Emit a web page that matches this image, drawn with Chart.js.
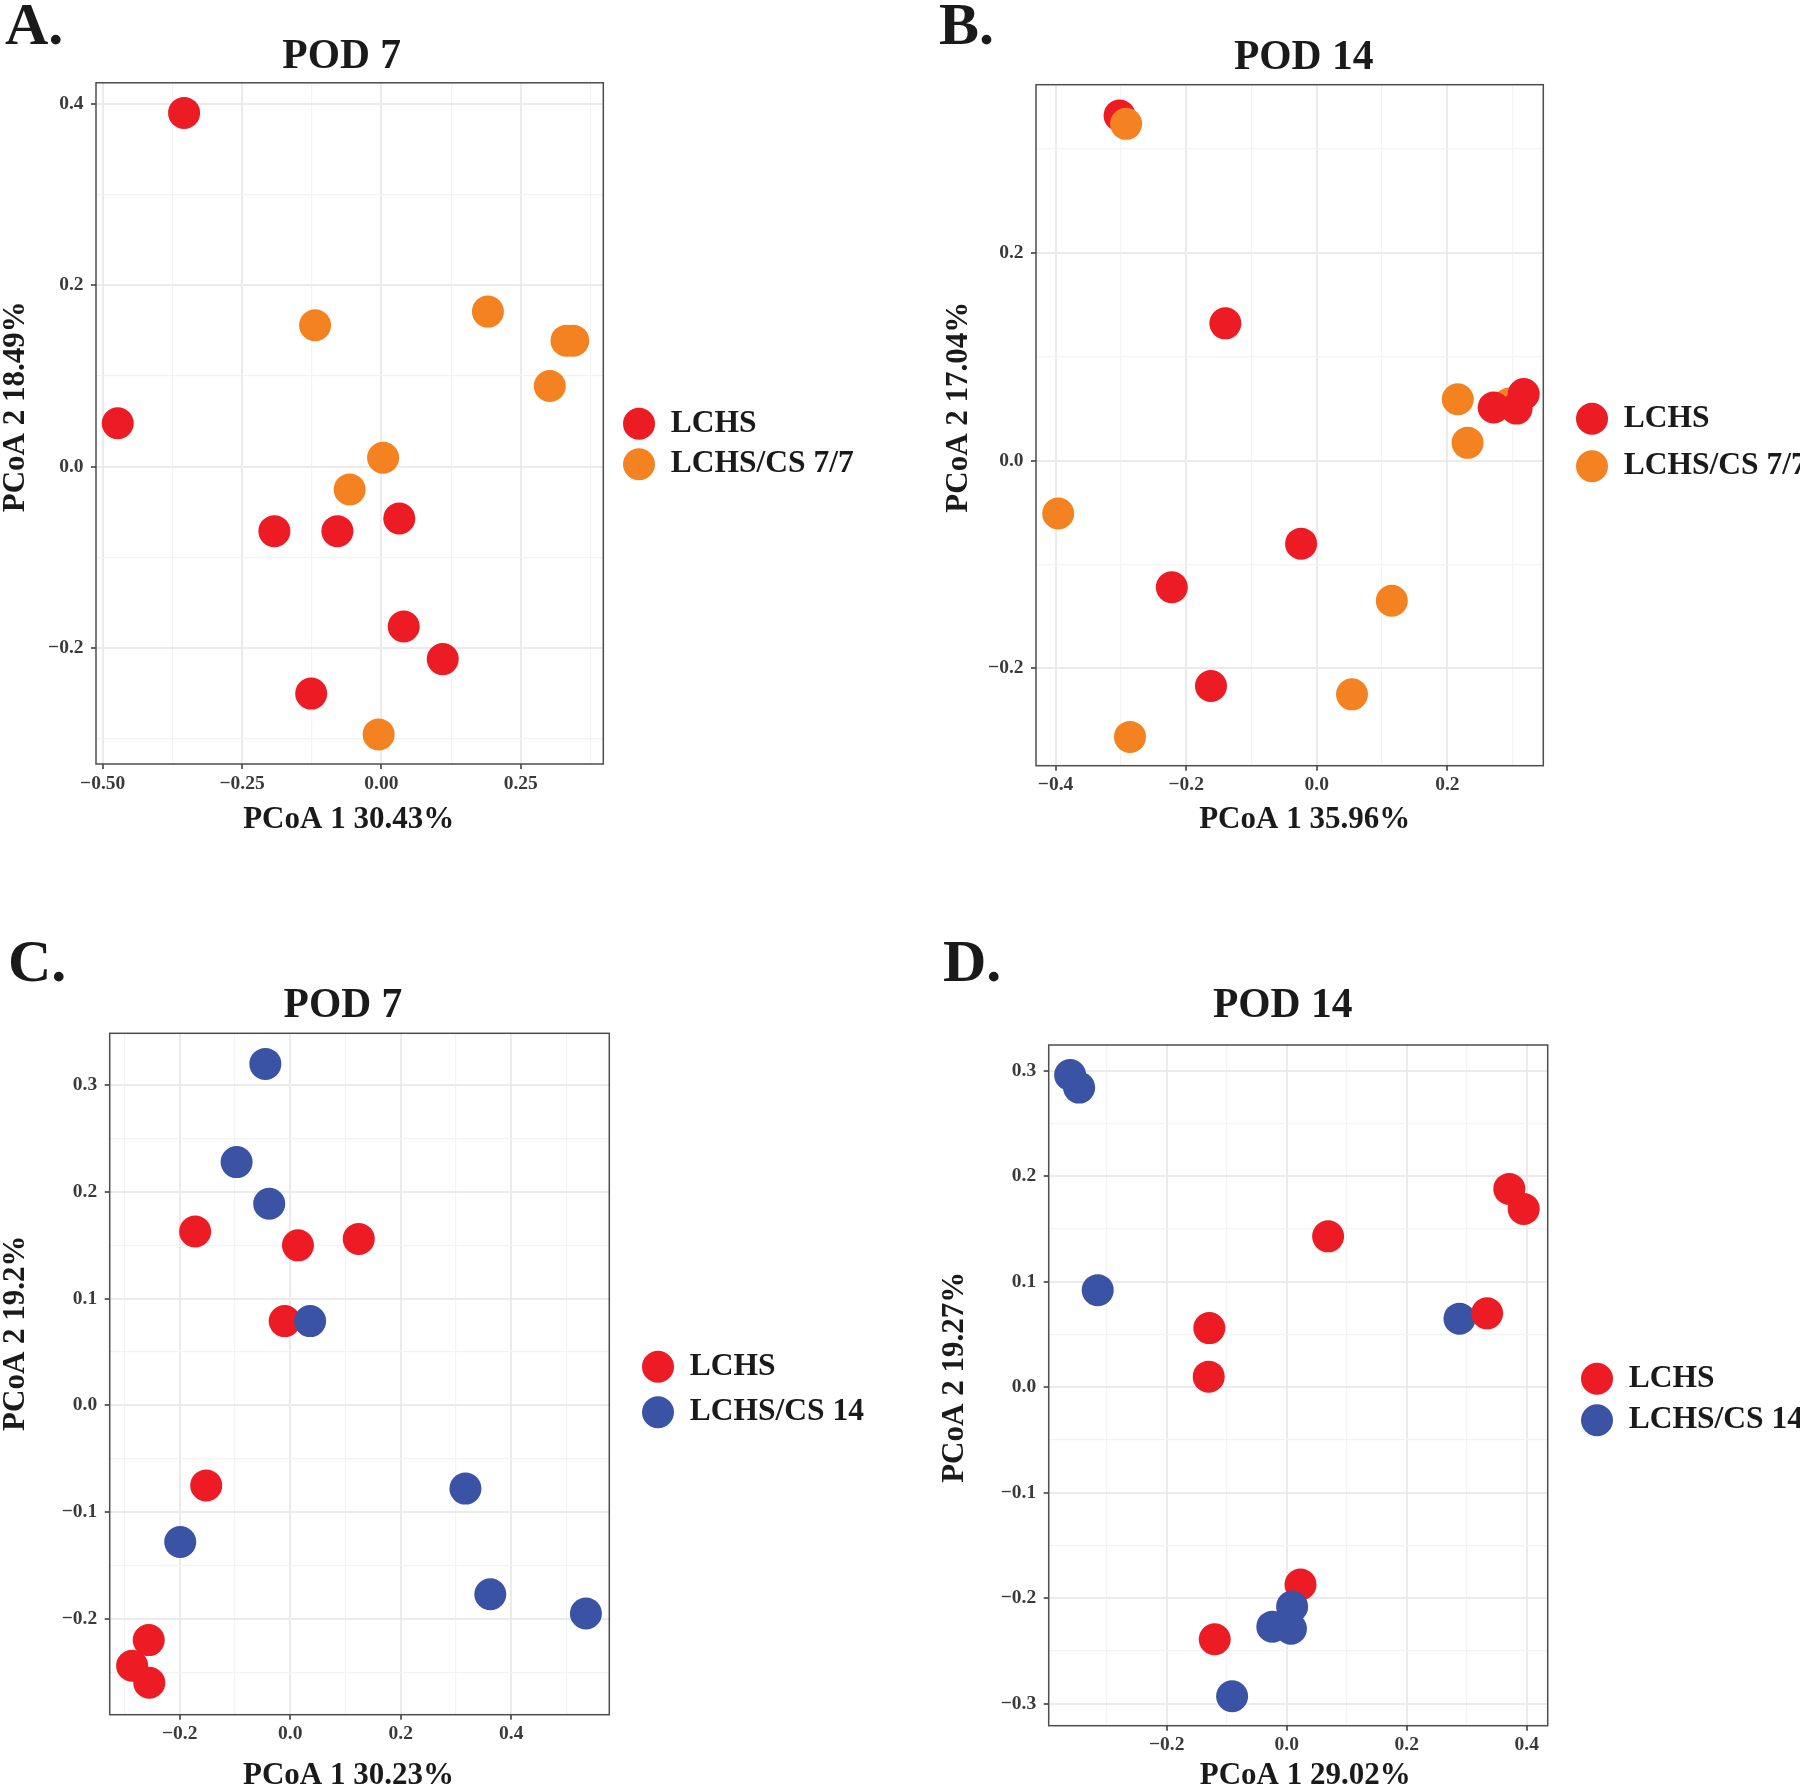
<!DOCTYPE html>
<html>
<head>
<meta charset="utf-8">
<title>PCoA - POD 7 / POD 14</title>
<script src="https://cdn.jsdelivr.net/npm/chart.js@4.4.1/dist/chart.umd.min.js"></script>
<style>
  html, body { margin: 0; padding: 0; background: #fff; overflow: hidden; }
  body { position: relative; width: 1800px; height: 1787px; }
  canvas { position: absolute; }
  .tag {
    position: absolute;
    font-family: 'Liberation Serif', 'Times New Roman', serif;
    font-weight: bold;
    font-size: 60px;
    line-height: 1;
    color: #1a1a1a;
  }
</style>
</head>
<body>
<div class="tag" style="left:5px;top:-6px">A.</div>
<div class="tag" style="left:939px;top:-6px">B.</div>
<div class="tag" style="left:8px;top:931px">C.</div>
<div class="tag" style="left:943px;top:931px">D.</div>

<canvas id="chartA" width="900" height="888" style="left:0px;top:0px"></canvas>
<canvas id="chartB" width="880" height="885" style="left:920px;top:0px"></canvas>
<canvas id="chartC" width="900" height="821" style="left:0px;top:979px"></canvas>
<canvas id="chartD" width="880" height="841" style="left:920px;top:979px"></canvas>

<script>
const FONT = "'Liberation Serif', 'Times New Roman', serif";
const M = '\u2212'; // ggplot minus sign

const groupColors = {
    'LCHS': '#ED1C24',
    'LCHS/CS 7/7': '#F58220',
    'LCHS/CS 14': '#3A53A4'
};

// ---------- A. POD 7 : LCHS vs LCHS/CS 7/7 (rows in drawing order) ----------
const groupA = ['LCHS', 'LCHS', 'LCHS', 'LCHS', 'LCHS', 'LCHS', 'LCHS', 'LCHS',
    'LCHS/CS 7/7', 'LCHS/CS 7/7', 'LCHS/CS 7/7', 'LCHS/CS 7/7', 'LCHS/CS 7/7', 'LCHS/CS 7/7', 'LCHS/CS 7/7', 'LCHS/CS 7/7'];
const pc1A = [-0.354, -0.473, -0.192, -0.079, 0.032, 0.040, 0.110, -0.126,
    -0.119, 0.191, 0.332, 0.344, 0.302, 0.003, -0.057, -0.005];
const pc2A = [0.390, 0.048, -0.071, -0.071, -0.057, -0.176, -0.212, -0.250,
    0.156, 0.171, 0.139, 0.139, 0.089, 0.010, -0.025, -0.295];
const xRangeA = [-0.512, 0.398];
const yRangeA = [-0.3276, 0.4232];
const xMajorA = [-0.5, -0.25, 0, 0.25];
const xMinorA = [-0.375, -0.125, 0.125, 0.375];
const xLabelsA = [M + '0.50', M + '0.25', '0.00', '0.25'];
const yMajorA = [-0.2, 0, 0.2, 0.4];
const yMinorA = [-0.3, -0.1, 0.1, 0.3];
const yLabelsA = [M + '0.2', '0.0', '0.2', '0.4'];

// ---------- B. POD 14 : LCHS vs LCHS/CS 7/7 ----------
const groupB = ['LCHS', 'LCHS/CS 7/7', 'LCHS/CS 7/7', 'LCHS', 'LCHS', 'LCHS', 'LCHS', 'LCHS', 'LCHS', 'LCHS',
    'LCHS/CS 7/7', 'LCHS/CS 7/7', 'LCHS/CS 7/7', 'LCHS/CS 7/7', 'LCHS/CS 7/7', 'LCHS/CS 7/7'];
const pc1B = [-0.302, -0.292, 0.295, 0.271, 0.306, 0.317, -0.140, -0.024, -0.222, -0.162,
    0.216, 0.231, -0.396, 0.115, 0.054, -0.286];
const pc2B = [0.332, 0.324, 0.055, 0.051, 0.050, 0.064, 0.132, -0.080, -0.122, -0.217,
    0.059, 0.017, -0.051, -0.135, -0.225, -0.266];
const xRangeB = [-0.430, 0.347];
const yRangeB = [-0.2937, 0.3617];
const xMajorB = [-0.4, -0.2, 0, 0.2];
const xMinorB = [-0.3, -0.1, 0.1, 0.3];
const xLabelsB = [M + '0.4', M + '0.2', '0.0', '0.2'];
const yMajorB = [-0.2, 0, 0.2];
const yMinorB = [-0.1, 0.1, 0.3];
const yLabelsB = [M + '0.2', '0.0', '0.2'];

// ---------- C. POD 7 : LCHS vs LCHS/CS 14 ----------
const groupC = ['LCHS', 'LCHS', 'LCHS', 'LCHS', 'LCHS', 'LCHS', 'LCHS', 'LCHS',
    'LCHS/CS 14', 'LCHS/CS 14', 'LCHS/CS 14', 'LCHS/CS 14', 'LCHS/CS 14', 'LCHS/CS 14', 'LCHS/CS 14', 'LCHS/CS 14'];
const pc1C = [-0.172, 0.014, 0.124, -0.010, -0.152, -0.256, -0.286, -0.255,
    -0.045, -0.097, -0.038, 0.036, 0.317, 0.362, 0.535, -0.199];
const pc2C = [0.163, 0.150, 0.156, 0.079, -0.075, -0.220, -0.244, -0.260,
    0.320, 0.228, 0.189, 0.079, -0.078, -0.177, -0.195, -0.128];
const xRangeC = [-0.3266, 0.5773];
const yRangeC = [-0.2899, 0.3487];
const xMajorC = [-0.2, 0, 0.2, 0.4];
const xMinorC = [-0.3, -0.1, 0.1, 0.3, 0.5];
const xLabelsC = [M + '0.2', '0.0', '0.2', '0.4'];
const yMajorC = [-0.2, -0.1, 0, 0.1, 0.2, 0.3];
const yMinorC = [-0.25, -0.15, -0.05, 0.05, 0.15, 0.25];
const yLabelsC = [M + '0.2', M + '0.1', '0.0', '0.1', '0.2', '0.3'];

// ---------- D. POD 14 : LCHS vs LCHS/CS 14 ----------
const groupD = ['LCHS/CS 14', 'LCHS/CS 14', 'LCHS/CS 14', 'LCHS/CS 14',
    'LCHS', 'LCHS', 'LCHS', 'LCHS', 'LCHS', 'LCHS', 'LCHS', 'LCHS',
    'LCHS/CS 14', 'LCHS/CS 14', 'LCHS/CS 14', 'LCHS/CS 14'];
const pc1D = [-0.361, -0.346, -0.315, 0.288,
    0.371, 0.395, 0.069, 0.334, -0.129, -0.130, 0.023, -0.120,
    0.009, -0.024, 0.007, -0.091];
const pc2D = [0.296, 0.284, 0.092, 0.065,
    0.188, 0.169, 0.143, 0.070, 0.056, 0.010, -0.187, -0.239,
    -0.208, -0.227, -0.229, -0.293];
const xRangeD = [-0.3967, 0.435];
const yRangeD = [-0.3209, 0.3244];
const xMajorD = [-0.2, 0, 0.2, 0.4];
const xMinorD = [-0.3, -0.1, 0.1, 0.3];
const xLabelsD = [M + '0.2', '0.0', '0.2', '0.4'];
const yMajorD = [-0.3, -0.2, -0.1, 0, 0.1, 0.2, 0.3];
const yMinorD = [-0.25, -0.15, -0.05, 0.05, 0.15, 0.25];
const yLabelsD = [M + '0.3', M + '0.2', M + '0.1', '0.0', '0.1', '0.2', '0.3'];


// legend gets a fixed width so the panel ends where it should
const legendWidth = {
    id: 'legendWidth',
    beforeInit(chart, args, opts) {
        const fit = chart.legend.fit;
        chart.legend.fit = function () {
            fit.call(this);
            this.width = opts.width;
        };
    }
};

// theme_bw panel border
const panelBorder = {
    id: 'panelBorder',
    afterDatasetsDraw(chart) {
        const { ctx, chartArea: a } = chart;
        ctx.save();
        ctx.strokeStyle = '#4d4d4d';
        ctx.lineWidth = 1.5;
        ctx.strokeRect(a.left, a.top, a.right - a.left, a.bottom - a.top);
        ctx.restore();
    }
};

// the titles in the figure sit a little off-centre; shift them the same way
function shifted(obj, fn, d) {
    if (!obj || !d || obj['_shift_' + fn]) return;
    const orig = obj[fn];
    obj['_shift_' + fn] = true;
    obj[fn] = function (...args) {
        const ctx = this.ctx;
        ctx.save();
        ctx.translate(d[0], d[1]);
        orig.apply(this, args);
        ctx.restore();
    };
}
const titleShift = {
    id: 'titleShift',
    beforeDraw(chart, args, o) {
        shifted(chart.titleBlock, 'draw', o.title);
        shifted(chart.scales.x, 'drawTitle', o.x);
        shifted(chart.scales.y, 'drawTitle', o.y);
    }
};

function axis(range, major, minor, labels, title, tickPad, fitBox) {
    const isMajor = (c) => c.tick !== undefined && major.includes(c.tick.value);
    return {
        type: 'linear',
        min: range[0],
        max: range[1],
        afterBuildTicks: (s) => {
            s.ticks = major.concat(minor).sort((a, b) => a - b).map((v) => ({ value: v }));
        },
        afterFit: fitBox,
        border: { display: false },
        grid: {
            color: (c) => isMajor(c) ? '#EBEBEB' : '#F3F3F3',
            lineWidth: (c) => isMajor(c) ? 2 : 1.2,
            tickColor: (c) => isMajor(c) ? '#333333' : 'rgba(0,0,0,0)',
            tickLength: 5,
            tickWidth: 1.5
        },
        ticks: {
            autoSkip: false,
            maxRotation: 0,
            minRotation: 0,
            padding: tickPad,
            color: '#3a3a3a',
            font: { family: FONT, size: 19.5, weight: 'bold' },
            callback: (v) => major.includes(v) ? labels[major.indexOf(v)] : ''
        },
        title: {
            display: true,
            text: title.text,
            color: '#1a1a1a',
            font: { family: FONT, size: 31, weight: 'bold', lineHeight: 1 },
            padding: title.padding
        }
    };
}

function pcoa(id, p) {
    return new Chart(document.getElementById(id), {
        type: 'scatter',
        data: {
            datasets: [{
                data: p.pc1.map((x, i) => ({ x: x, y: p.pc2[i] })),
                xAxisID: 'x',
                yAxisID: 'y',
                pointBackgroundColor: p.group.map((g) => groupColors[g]),
                pointRadius: 16,
                pointHoverRadius: 16,
                pointBorderWidth: 0,
                clip: false
            }]
        },
        options: {
            responsive: false,
            animation: false,
            events: [],
            devicePixelRatio: 1,
            scales: {
                x: axis(p.xRange, p.xMajor, p.xMinor, p.xLabels,
                    { text: p.xTitle, padding: { top: 0, bottom: p.xTitlePad } }, 3,
                    (s) => { s.height = p.xHeight; }),
                y: axis(p.yRange, p.yMajor, p.yMinor, p.yLabels,
                    { text: p.yTitle, padding: { top: p.yTitlePad, bottom: 0 } }, 7.5,
                    (s) => { s.width = p.yWidth; }),
                // empty right-hand box = gap between panel and legend
                gap: {
                    type: 'linear',
                    position: 'right',
                    grid: { display: false },
                    ticks: { display: false },
                    border: { display: false },
                    afterFit: (s) => { s.width = p.gap; }
                }
            },
            plugins: {
                title: {
                    display: true,
                    text: p.title,
                    fullSize: false,
                    color: '#1a1a1a',
                    font: { family: FONT, size: 41.5, weight: 'bold', lineHeight: 1 },
                    padding: { top: p.titleTop, bottom: p.titleBottom }
                },
                legend: {
                    position: 'right',
                    align: 'center',
                    fullSize: true,
                    onClick: null,
                    labels: {
                        usePointStyle: true,
                        pointStyle: 'circle',
                        pointStyleWidth: 32,
                        boxHeight: 22.6,
                        padding: p.legendPad,
                        color: '#1a1a1a',
                        font: { family: FONT, size: 31.5, weight: 'bold' },
                        generateLabels: () => p.legend.map((g) => ({
                            text: g,
                            fillStyle: groupColors[g],
                            strokeStyle: groupColors[g],
                            fontColor: '#1a1a1a',
                            lineWidth: 0,
                            pointStyle: 'circle',
                            hidden: false,
                            datasetIndex: 0
                        }))
                    }
                },
                tooltip: { enabled: false },
                legendWidth: { width: p.legendW },
                titleShift: p.shift
            }
        },
        plugins: [legendWidth, panelBorder, titleShift]
    });
}

pcoa('chartA', {
    pc1: pc1A, pc2: pc2A, group: groupA, legend: ['LCHS', 'LCHS/CS 7/7'],
    xRange: xRangeA, yRange: yRangeA,
    xMajor: xMajorA, xMinor: xMinorA, xLabels: xLabelsA,
    yMajor: yMajorA, yMinor: yMinorA, yLabels: yLabelsA,
    title: 'POD 7', xTitle: 'PCoA 1 30.43%', yTitle: 'PCoA 2 18.49%',
    titleTop: 33, titleBottom: 8.3,
    yWidth: 96, yTitlePad: 0,
    xHeight: 124, xTitlePad: 55,
    gap: 10.7, legendW: 286, legendPad: 9,
    shift: { title: [-8, 3.5], x: [-1, 2.3], y: [0, -16.6] }
});

pcoa('chartB', {
    pc1: pc1B, pc2: pc2B, group: groupB, legend: ['LCHS', 'LCHS/CS 7/7'],
    xRange: xRangeB, yRange: yRangeB,
    xMajor: xMajorB, xMinor: xMinorB, xLabels: xLabelsB,
    yMajor: yMajorB, yMinor: yMinorB, yLabels: yLabelsB,
    title: 'POD 14', xTitle: 'PCoA 1 35.96%', yTitle: 'PCoA 2 17.04%',
    titleTop: 34, titleBottom: 9.2,
    yWidth: 116, yTitlePad: 23,
    xHeight: 119.3, xTitlePad: 51.5,
    gap: 16.7, legendW: 240, legendPad: 16,
    shift: { title: [14, 3.5], x: [15, 2.3], y: [0, -18] }
});

pcoa('chartC', {
    pc1: pc1C, pc2: pc2C, group: groupC, legend: ['LCHS', 'LCHS/CS 14'],
    xRange: xRangeC, yRange: yRangeC,
    xMajor: xMajorC, xMinor: xMinorC, xLabels: xLabelsC,
    yMajor: yMajorC, yMinor: yMinorC, yLabels: yLabelsC,
    title: 'POD 7', xTitle: 'PCoA 1 30.23%', yTitle: 'PCoA 2 19.2%',
    titleTop: 3, titleBottom: 9.8,
    yWidth: 109.7, yTitlePad: 0,
    xHeight: 85.3, xTitlePad: 11,
    gap: 18.7, legendW: 272, legendPad: 14,
    shift: { title: [-16.6, 3.5], x: [-11, 2.3], y: [0, -40.8] }
});

pcoa('chartD', {
    pc1: pc1D, pc2: pc2D, group: groupD, legend: ['LCHS', 'LCHS/CS 14'],
    xRange: xRangeD, yRange: yRangeD,
    xMajor: xMajorD, xMinor: xMinorD, xLabels: xLabelsD,
    yMajor: yMajorD, yMinor: yMinorD, yLabels: yLabelsD,
    title: 'POD 14', xTitle: 'PCoA 1 29.02%', yTitle: 'PCoA 2 19.27%',
    titleTop: 3, titleBottom: 21.5,
    yWidth: 128.7, yTitlePad: 19.5,
    xHeight: 94.3, xTitlePad: 31,
    gap: 23.3, legendW: 229, legendPad: 10,
    shift: { title: [-15.5, 3.5], x: [7, 2.3], y: [0, -8] }
});
</script>
</body>
</html>
